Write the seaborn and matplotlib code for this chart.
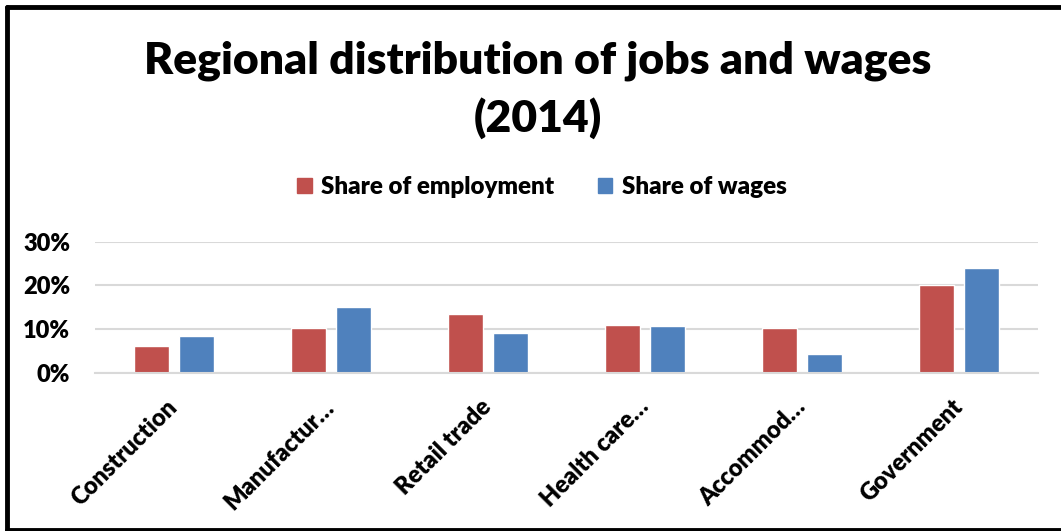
import matplotlib
matplotlib.use("Agg")
import matplotlib.pyplot as plt
import matplotlib.transforms as mtransforms
from matplotlib.lines import Line2D
from matplotlib.ticker import PercentFormatter
import seaborn as sns
import pandas as pd

# Industry categories (labels as shown on the axis)
categories = ["Construction", "Manufactur…", "Retail trade", "Health care…", "Accommod…", "Government"]
series_names = ["Share of employment", "Share of wages"]
share_employment = [0.061, 0.103, 0.134, 0.109, 0.102, 0.201]
share_wages = [0.084, 0.150, 0.090, 0.108, 0.042, 0.239]
y_ticks = [0.0, 0.10, 0.20, 0.30]

palette = {"Share of employment": "#C0504D", "Share of wages": "#4F81BD"}

df = pd.DataFrame({
    "Industry": categories * 2,
    "Series": [series_names[0]] * len(categories) + [series_names[1]] * len(categories),
    "Share": share_employment + share_wages,
})

sns.set_theme(style="white")
plt.rcParams["font.family"] = ["Lato", "DejaVu Sans"]
WEIGHT = "heavy"

W, H = 1061, 531
fig = plt.figure(figsize=(W / 100, H / 100), dpi=100)
ax = fig.add_axes([95 / W, 1 - 372.7 / H, (1038 - 95) / W, (372.7 - 241.7) / H])

sns.barplot(data=df, x="Industry", y="Share", hue="Series", palette=palette,
            width=0.573, gap=0.22, ax=ax, saturation=1, legend=False)

ax.set_ylim(0, 0.30)
ax.set_xlim(-0.5, len(categories) - 0.5)
ax.set_yticks(y_ticks)
ax.yaxis.set_major_formatter(PercentFormatter(xmax=1, decimals=0))
ax.grid(axis="y", color="#D9D9D9", linewidth=1.5)
ax.set_axisbelow(True)
for side in ["left", "right", "top"]:
    ax.spines[side].set_visible(False)
ax.spines["bottom"].set_color("#D9D9D9")
ax.spines["bottom"].set_linewidth(1.5)
ax.tick_params(axis="both", length=0)
ax.tick_params(axis="y", pad=18, labelsize=17)
ax.tick_params(axis="x", pad=18, labelsize=17)
for lbl in ax.get_yticklabels():
    lbl.set_fontweight(WEIGHT)
    lbl.set_color("black")
shift = mtransforms.ScaledTranslation(-8 / 100, 2 / 100, fig.dpi_scale_trans)
for lbl in ax.get_xticklabels():
    lbl.set_rotation(45)
    lbl.set_ha("right")
    lbl.set_rotation_mode("anchor")
    lbl.set_fontweight(WEIGHT)
    lbl.set_color("black")
    lbl.set_transform(lbl.get_transform() + shift)
ax.set_xlabel("")
ax.set_ylabel("")

# Legend centred above the plot area
handles = [plt.Rectangle((0, 0), 1, 1, color=palette[s]) for s in series_names]
leg = fig.legend(handles, series_names, loc="center", bbox_to_anchor=(542 / W, 1 - 187 / H),
                 ncol=2, frameon=False, prop={"size": 17.4, "weight": WEIGHT},
                 handlelength=0.6, handleheight=0.6, handletextpad=0.4, columnspacing=1.8)
for t in leg.get_texts():
    t.set_color("black")

fig.text(538 / W, 1 - 61 / H, "Regional distribution of jobs and wages",
         ha="center", va="center", fontsize=32, fontweight=WEIGHT, color="black")
fig.text(538 / W, 1 - 118 / H, "(2014)",
         ha="center", va="center", fontsize=32, fontweight=WEIGHT, color="black")

# Chart border (top, left, bottom)
def px_line(x0, y0, x1, y1, lw):
    fig.add_artist(Line2D([x0 / W, x1 / W], [1 - y0 / H, 1 - y1 / H],
                          transform=fig.transFigure, color="black", linewidth=lw))

lw = 3.5
px_line(6.5, 7, W, 7, lw)
px_line(6.5, 7, 6.5, 529.5, lw)
px_line(6.5, 529.5, W, 529.5, lw)

fig.savefig("out.png", dpi=100)
